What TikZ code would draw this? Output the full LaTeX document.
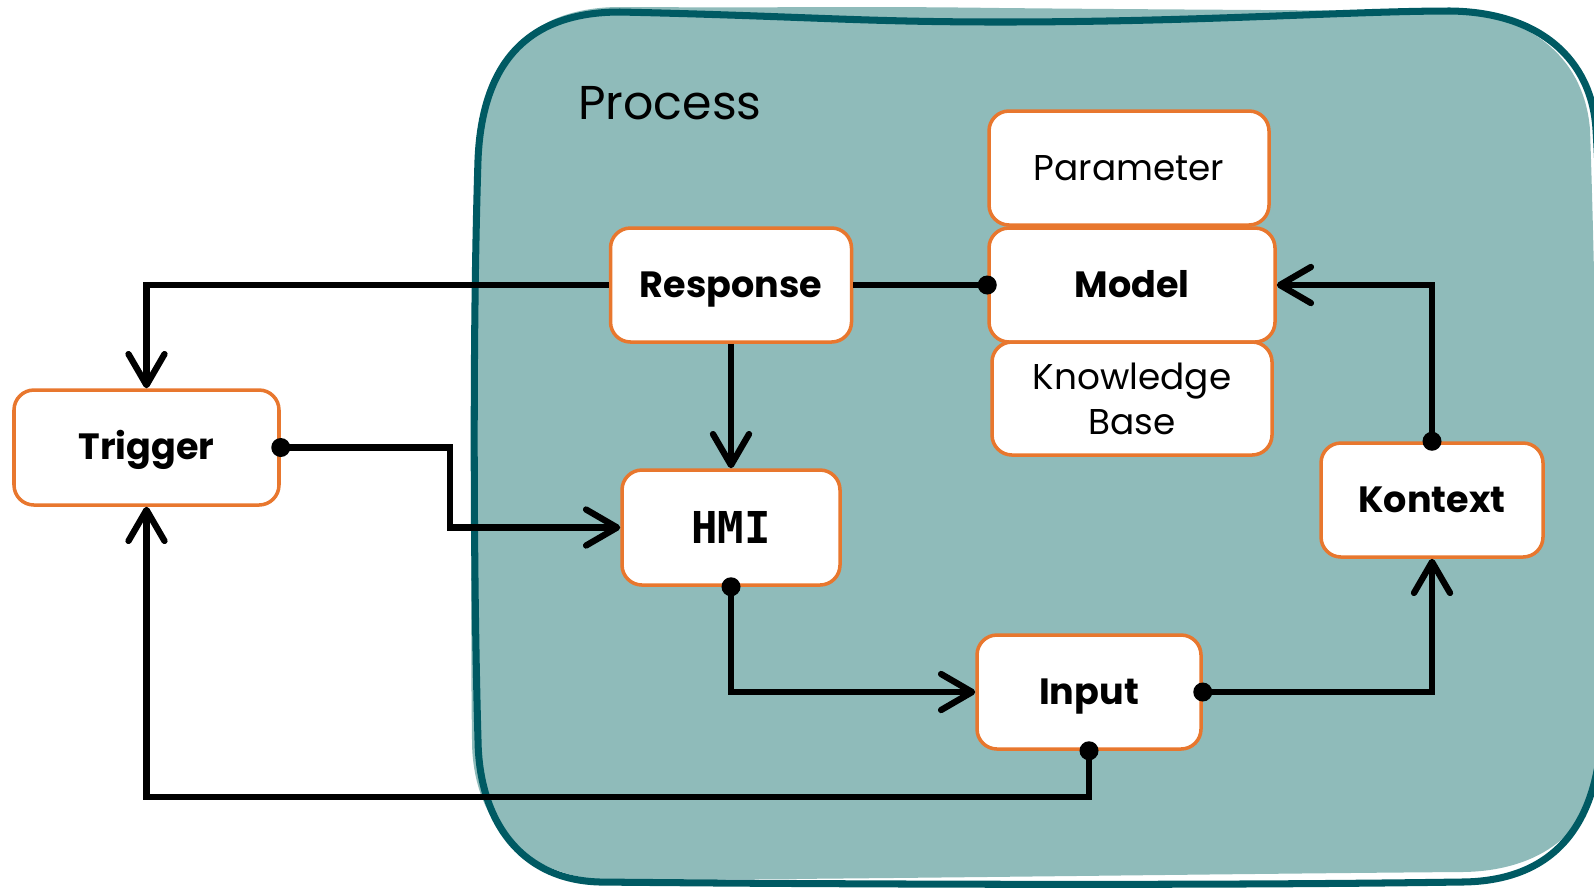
\documentclass[tikz,border=0pt]{standalone}
\usepackage{fontspec}
\setmainfont{Poppins}
\setmonofont{DejaVu Sans Mono}
\usepackage{tikz}
\usetikzlibrary{%
  arrows.meta,%
  positioning,%
  calc%
}
\definecolor{blobfill}{HTML}{8FBBBA}
\definecolor{blobline}{HTML}{005A63}
\definecolor{boxline}{HTML}{E8772E}

\begin{document}
\begin{tikzpicture}[
    box/.style={draw=boxline,fill=white,line width=1pt,rounded corners=0.2cm,
      inner sep=0pt,align=center},
    boldbox/.style={box,font=\fontsize{10.4}{13}\selectfont\bfseries,
      text height=0.8em,text depth=0.1em},
    thinbox/.style={box,font=\fontsize{10.2}{12.8}\selectfont},
    flow/.style={draw,line width=1.8pt,
      -{Straight Barb[length=3.1mm,width=3.6mm,round]}},
    wire/.style={draw,line width=1.8pt},
  ]
  \useasboundingbox (0,0) rectangle (15.94,-8.88);

  % process area, drawn by hand
  \begin{scope}
    \clip (0,0) rectangle (15.94,-8.88);
    \fill[blobfill] (6.20,-0.07) .. controls (8.0,-0.08) and (8.6,-0.06) .. (10.0,-0.08)
      .. controls (12.0,-0.10) and (13.5,-0.10) .. (14.50,-0.12)
      .. controls (15.35,-0.14) and (15.85,-0.62) .. (15.90,-1.30)
      .. controls (15.96,-3.0) and (16.00,-6.0) .. (16.00,-7.60)
      .. controls (15.92,-8.40) and (15.30,-8.72) .. (14.60,-8.72)
      .. controls (12.0,-8.74) and (8.0,-8.80) .. (6.00,-8.80)
      .. controls (5.10,-8.70) and (4.72,-8.10) .. (4.72,-7.40)
      .. controls (4.70,-6.0) and (4.72,-3.5) .. (4.76,-1.60)
      .. controls (4.80,-0.60) and (5.30,-0.07) .. (6.20,-0.07) -- cycle;
    \draw[blobline,line width=2pt] (6.20,-0.12) .. controls (8.0,-0.16) and (8.6,-0.22) .. (10.0,-0.22)
      .. controls (12.0,-0.22) and (13.5,-0.11) .. (14.50,-0.11)
      .. controls (15.40,-0.12) and (15.92,-0.60) .. (15.96,-1.30)
      .. controls (16.06,-3.0) and (16.06,-6.0) .. (16.01,-7.40)
      .. controls (15.93,-8.50) and (15.30,-8.82) .. (14.60,-8.82)
      .. controls (12.0,-8.86) and (8.0,-8.84) .. (6.00,-8.82)
      .. controls (5.20,-8.80) and (4.79,-8.20) .. (4.78,-7.40)
      .. controls (4.74,-6.0) and (4.72,-3.5) .. (4.78,-1.60)
      .. controls (4.82,-0.60) and (5.30,-0.12) .. (6.20,-0.12) -- cycle;
  \end{scope}
  \node[anchor=west,font=\fontsize{13.5}{16}\selectfont] (proc) at (5.66,-1.03) {Process};

  \node[boldbox,minimum width=2.65cm,minimum height=1.15cm] (trig) at (1.465,-4.475) {Trigger};
  \node[boldbox,minimum width=2.41cm,minimum height=1.14cm] (resp) at (7.31,-2.85) {Response};
  \node[box,font=\fontsize{12.5}{14}\selectfont\ttfamily\bfseries,
    minimum width=2.18cm,minimum height=1.15cm] (hmi) at (7.31,-5.275) {HMI};
  \node[thinbox,minimum width=2.80cm,minimum height=1.14cm] (param) at (11.29,-1.68) {Parameter};
  \node[boldbox,minimum width=2.86cm,minimum height=1.14cm] (model) at (11.32,-2.85) {Model};
  \node[thinbox,minimum width=2.80cm,minimum height=1.13cm] (kb) at (11.32,-3.985) {Knowledge\\Base};
  \node[boldbox,minimum width=2.22cm,minimum height=1.14cm] (ktx) at (14.32,-5.00) {Kontext};
  \node[boldbox,minimum width=2.24cm,minimum height=1.14cm] (inp) at (10.89,-6.92) {Input};
  \coordinate (low) at (1.465,-7.97);

  \path [flow] (resp.west) -| (trig.north);
  \path [flow] (resp.south) -- (hmi.north);
  \path [wire] (resp.east) -- (model.west);
  \path [flow] (trig.east) -- ++(1.69,0) |- (hmi.west);
  \path [flow] (hmi.south) |- (inp.west);
  \path [flow] (inp.east) -| (ktx.south);
  \path [flow] (ktx.north) |- (model.east);
  \path [flow] (inp.south) -- (inp.south |- low) -| (trig.south);

  \foreach \p in {model.west,trig.east,hmi.south,inp.east,ktx.north,inp.south}
    \fill (\p) circle (0.095);
\end{tikzpicture}
\end{document}
